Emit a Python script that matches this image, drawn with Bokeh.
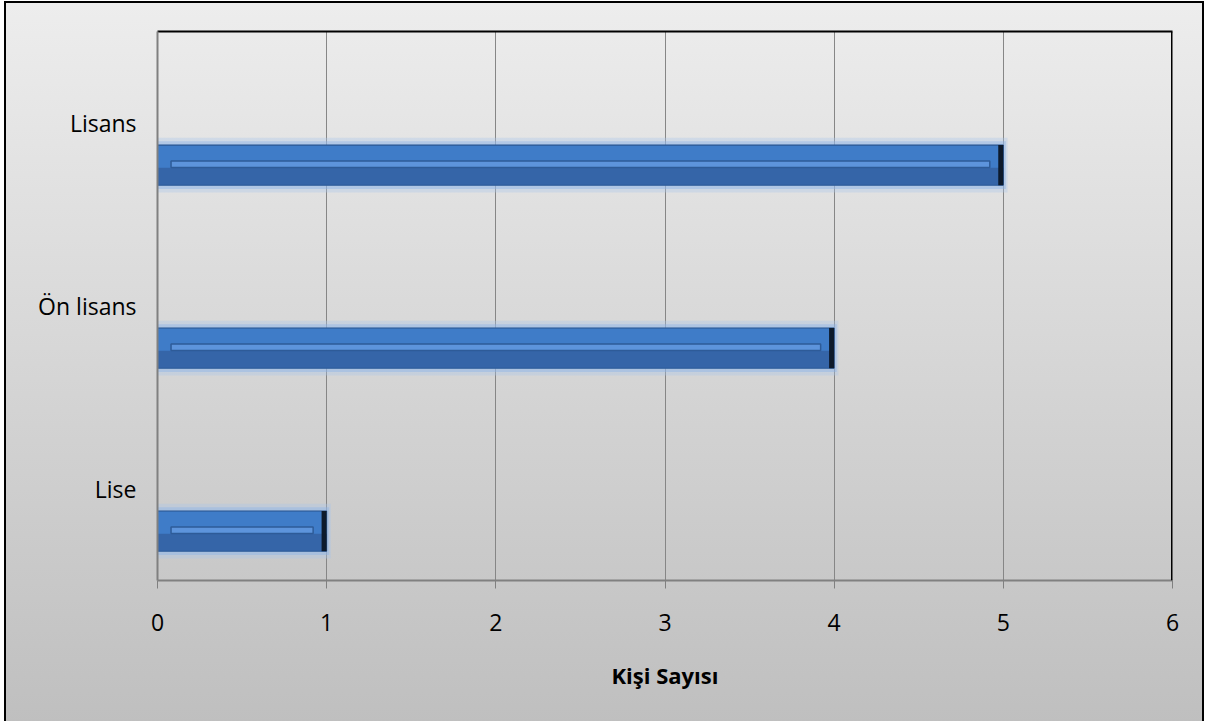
from bokeh.plotting import figure
from bokeh.models import FactorRange, Range1d, FixedTicker, ColumnDataSource, LinearAxis, Span
from bokeh.transform import dodge
from bokeh.embed import file_html
from bokeh.resources import INLINE

categories = ["Lise", "Ön lisans", "Lisans"]
counts = [1, 4, 5]
x_ticks = [0, 1, 2, 3, 4, 5, 6]
x_title = "Kişi Sayısı"

src = ColumnDataSource(dict(cat=categories, count=counts, zero=[0] * len(counts)))

p = figure(width=1200, height=724,
           y_range=FactorRange(*categories, range_padding=0),
           x_range=Range1d(x_ticks[0], x_ticks[-1]),
           output_backend="svg", toolbar_location=None,
           min_border_left=151, min_border_top=28, min_border_right=34, min_border_bottom=147,
           styles={"background": "linear-gradient(to bottom, #ededed, #bfbfbf)",
                   "border": "2px solid black", "margin-left": "4px", "margin-top": "1px"})
p.background_fill_alpha = 0
p.border_fill_alpha = 0
p.outline_line_color = None

yc = dodge("cat", -0.23, range=p.y_range)
# glow
p.hbar(y=yc, left="zero", right=dodge("count", 0.025), height=0.30, source=src,
       fill_color="#a9c6ec", fill_alpha=0.35, line_color=None)
p.hbar(y=yc, left="zero", right=dodge("count", 0.015), height=0.26, source=src,
       fill_color="#8fb4e6", fill_alpha=0.45, line_color=None)
# main bar
p.hbar(y=yc, left="zero", right="count", height=0.22, source=src,
       fill_color="#3565a8", line_color="#2c5a97", line_width=1)
p.hbar(y=dodge("cat", -0.185, range=p.y_range), left="zero", right="count", height=0.12, source=src,
       fill_color="#3f7cc8", line_color=None)
# inner groove
p.hbar(y=dodge("cat", -0.225, range=p.y_range), left=dodge("zero", 0.08), right=dodge("count", -0.08),
       height=0.035, source=src, fill_color="#5d94dc", line_color="#2e5b98", line_width=1.5)
# dark right end
p.hbar(y=yc, left=dodge("count", -0.03), right="count", height=0.22, source=src,
       fill_color="#0d1a2c", line_color=None)

p.xaxis.ticker = FixedTicker(ticks=x_ticks)
p.xaxis.axis_label = x_title
p.xaxis.axis_label_text_font = "Open Sans"
p.xaxis.axis_label_text_font_style = "bold"
p.xaxis.axis_label_text_font_size = "22px"
p.xaxis.axis_label_text_color = "black"
p.xaxis.axis_label_standoff = 26
p.xaxis.major_label_text_font = "Open Sans"
p.xaxis.major_label_text_font_size = "23px"
p.xaxis.major_label_text_color = "black"
p.xaxis.major_label_standoff = 25
p.xaxis.axis_line_color = "#808080"
p.xaxis.axis_line_width = 2
p.xaxis.major_tick_line_color = "#808080"
p.xaxis.major_tick_out = 8
p.xaxis.major_tick_in = 0
p.xaxis.minor_tick_line_color = None

p.yaxis.major_label_text_font = "Open Sans"
p.yaxis.major_label_text_font_size = "23px"
p.yaxis.major_label_text_color = "black"
p.yaxis.major_label_standoff = 15
p.yaxis.axis_line_color = "#808080"
p.yaxis.axis_line_width = 2
p.yaxis.major_tick_line_color = None

p.xgrid.grid_line_color = "#868686"
p.xgrid.grid_line_width = 1
p.ygrid.grid_line_color = None

# black top and right frame edges
top = LinearAxis(ticker=FixedTicker(ticks=[]), axis_line_color="black", axis_line_width=2,
                 major_tick_line_color=None, minor_tick_line_color=None)
p.add_layout(top, "above")
p.add_layout(Span(location=x_ticks[-1], dimension="height", line_color="black", line_width=3,
                  level="overlay"))

open("out.html", "w").write(file_html(p, INLINE))
